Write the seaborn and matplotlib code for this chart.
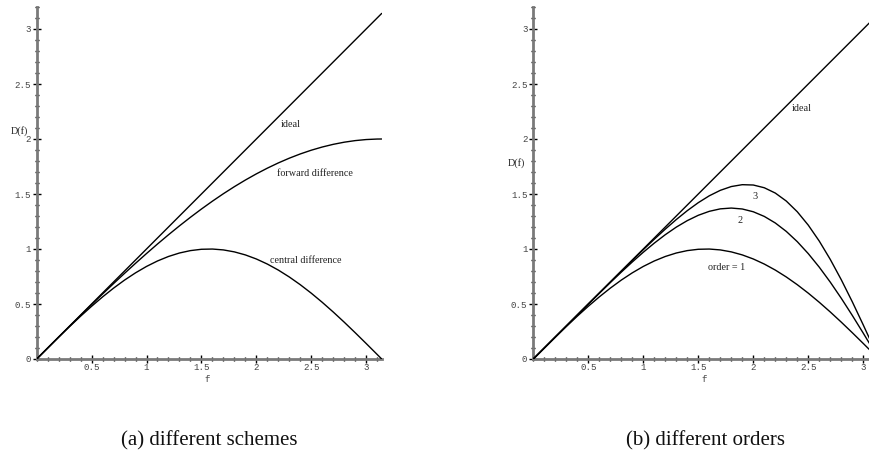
import matplotlib
matplotlib.use("Agg")
import matplotlib.pyplot as plt
import seaborn as sns
import pandas as pd
from matplotlib.ticker import MultipleLocator, FixedLocator, FixedFormatter

# ---------------- data ----------------
f_vals = [0.0, 0.1, 0.2, 0.3, 0.4, 0.5, 0.6, 0.7, 0.8, 0.9, 1.0, 1.1, 1.2, 1.3,
          1.4, 1.5, 1.6, 1.7, 1.8, 1.9, 2.0, 2.1, 2.2, 2.3, 2.4, 2.5, 2.6, 2.7,
          2.8, 2.9, 3.0, 3.1, 3.1416]
ideal_f = [0.0, 3.1416]
ideal_d = [0.0, 3.1416]
forward_diff = [0.0, 0.0999, 0.1997, 0.2989, 0.3973, 0.4948, 0.5910, 0.6858,
                0.7788, 0.8699, 0.9589, 1.0454, 1.1293, 1.2104, 1.2884, 1.3633,
                1.4347, 1.5026, 1.5667, 1.6268, 1.6829, 1.7348, 1.7824, 1.8255,
                1.8641, 1.8980, 1.9271, 1.9514, 1.9709, 1.9854, 1.9950, 1.9996,
                2.0]
central_diff = [0.0, 0.0998, 0.1987, 0.2955, 0.3894, 0.4794, 0.5646, 0.6442,
                0.7174, 0.7833, 0.8415, 0.8912, 0.9320, 0.9636, 0.9854, 0.9975,
                0.9996, 0.9917, 0.9738, 0.9463, 0.9093, 0.8632, 0.8085, 0.7457,
                0.6755, 0.5985, 0.5155, 0.4274, 0.3350, 0.2392, 0.1411, 0.0416,
                0.0]
order2 = [0.0, 0.0999, 0.2000, 0.2999, 0.3996, 0.4990, 0.5975, 0.6947, 0.7899,
          0.8821, 0.9705, 1.0535, 1.1301, 1.1989, 1.2580, 1.3065, 1.3425, 1.3649,
          1.3722, 1.3637, 1.3385, 1.2962, 1.2366, 1.1599, 1.0667, 0.9578, 0.8346,
          0.6987, 0.5519, 0.3964, 0.2347, 0.0693, 0.0]
order3 = [0.0, 0.0999, 0.2000, 0.3000, 0.4000, 0.4999, 0.5998, 0.6995, 0.7987,
          0.8971, 0.9941, 1.0890, 1.1807, 1.2678, 1.3486, 1.4213, 1.4837, 1.5333,
          1.5678, 1.5847, 1.5817, 1.5568, 1.5086, 1.4359, 1.3385, 1.2167, 1.0716,
          0.9052, 0.7204, 0.5204, 0.3092, 0.0914, 0.0]

x_tick_vals = [0.5, 1.0, 1.5, 2.0, 2.5, 3.0]
x_tick_labels = ["0.5", "1", "1.5", "2", "2.5", "3"]
y_tick_vals = [0.0, 0.5, 1.0, 1.5, 2.0, 2.5, 3.0]
y_tick_labels = ["0", "0.5", "1", "1.5", "2", "2.5", "3"]

left_labels = ["ideal", "forward difference", "central difference"]
right_labels = ["ideal", "3", "2", "order = 1"]
captions = ["(a) different schemes", "(b) different orders"]

# ---------------- style ----------------
sns.set_style("white")
plt.rcParams["font.family"] = ["DejaVu Sans"]

W, H = 869, 451
fig = plt.figure(figsize=(W / 100, H / 100), dpi=100)

mono = "Liberation Mono"
serif = "Liberation Serif"
tick_col = "#444444"
axis_col = "#7a7a7a"

ax_l = fig.add_axes([36.7 / W, 92 / H, 345 / W, 352 / H])
ax_r = fig.add_axes([533.3 / W, 92 / H, (W - 533.3) / W, 352 / H])


def style_axes(ax, xmax):
    ax.set_xlim(0, xmax)
    ax.set_ylim(0, 3.2)
    ax.patch.set_alpha(0)
    for s in ("top", "right"):
        ax.spines[s].set_visible(False)
    for s in ("left", "bottom"):
        ax.spines[s].set_color(axis_col)
        ax.spines[s].set_linewidth(2.0)
        ax.spines[s].set_zorder(1)
    ax.xaxis.set_major_locator(FixedLocator(x_tick_vals))
    ax.xaxis.set_major_formatter(FixedFormatter(x_tick_labels))
    ax.yaxis.set_major_locator(FixedLocator(y_tick_vals))
    ax.yaxis.set_major_formatter(FixedFormatter(y_tick_labels))
    ax.xaxis.set_minor_locator(MultipleLocator(0.1))
    ax.yaxis.set_minor_locator(MultipleLocator(0.1))
    ax.tick_params(which="major", direction="inout", length=6, width=1.0,
                   color="black", labelsize=6.6, labelcolor=tick_col, pad=1.2)
    ax.tick_params(which="minor", direction="inout", length=3.5, width=1.0,
                   color="black")
    ax.tick_params(axis="x", which="major", pad=0.2)
    ax.tick_params(axis="x", which="both", bottom=True)
    ax.tick_params(axis="y", which="both", left=True)
    for lab in ax.get_xticklabels() + ax.get_yticklabels():
        lab.set_fontfamily(mono)
    ax.set_xlabel("")
    ax.set_ylabel("")


lw = 1.0
# left panel
sns.lineplot(x=ideal_f, y=ideal_d, ax=ax_l, color="black", lw=lw, sort=False, estimator=None)
sns.lineplot(x=f_vals, y=forward_diff, ax=ax_l, color="black", lw=lw, sort=False, estimator=None)
sns.lineplot(x=f_vals, y=central_diff, ax=ax_l, color="black", lw=lw, sort=False, estimator=None)
style_axes(ax_l, 3.1416)

# right panel
sns.lineplot(x=ideal_f, y=ideal_d, ax=ax_r, color="black", lw=lw, sort=False, estimator=None)
sns.lineplot(x=f_vals, y=central_diff, ax=ax_r, color="black", lw=lw, sort=False, estimator=None)
sns.lineplot(x=f_vals, y=order2, ax=ax_r, color="black", lw=lw, sort=False, estimator=None)
sns.lineplot(x=f_vals, y=order3, ax=ax_r, color="black", lw=lw, sort=False, estimator=None)
style_axes(ax_r, 3.052)

lab_kw = dict(family=serif, fontsize=7.3, color="#222222", ha="center", va="center")
for txt, (x, y) in zip(left_labels, [(2.314, 2.136), (2.536, 1.688), (2.45, 0.891)]):
    ax_l.text(x, y, txt, **lab_kw)
for txt, (x, y) in zip(right_labels, [(2.44, 2.28), (2.02, 1.48), (1.88, 1.26), (1.76, 0.83)]):
    ax_r.text(x, y, txt, **lab_kw)

# axis titles
ax_l.text(-0.161, 2.07, "D(f)", clip_on=False, **lab_kw)
ax_r.text(-0.157, 1.78, "D(f)", clip_on=False, **lab_kw)
ax_l.text(1.55, -0.19, "f", family=mono, fontsize=6.6, color=tick_col,
          ha="center", va="center", clip_on=False)
ax_r.text(1.555, -0.19, "f", family=mono, fontsize=6.6, color=tick_col,
          ha="center", va="center", clip_on=False)

# captions
fig.text(209 / W, (H - 445) / H, captions[0], family=serif, fontsize=15,
         ha="center", va="baseline", color="#111111")
fig.text(705.5 / W, (H - 445) / H, captions[1], family=serif, fontsize=15,
         ha="center", va="baseline", color="#111111")

fig.savefig("out.png", dpi=100)
